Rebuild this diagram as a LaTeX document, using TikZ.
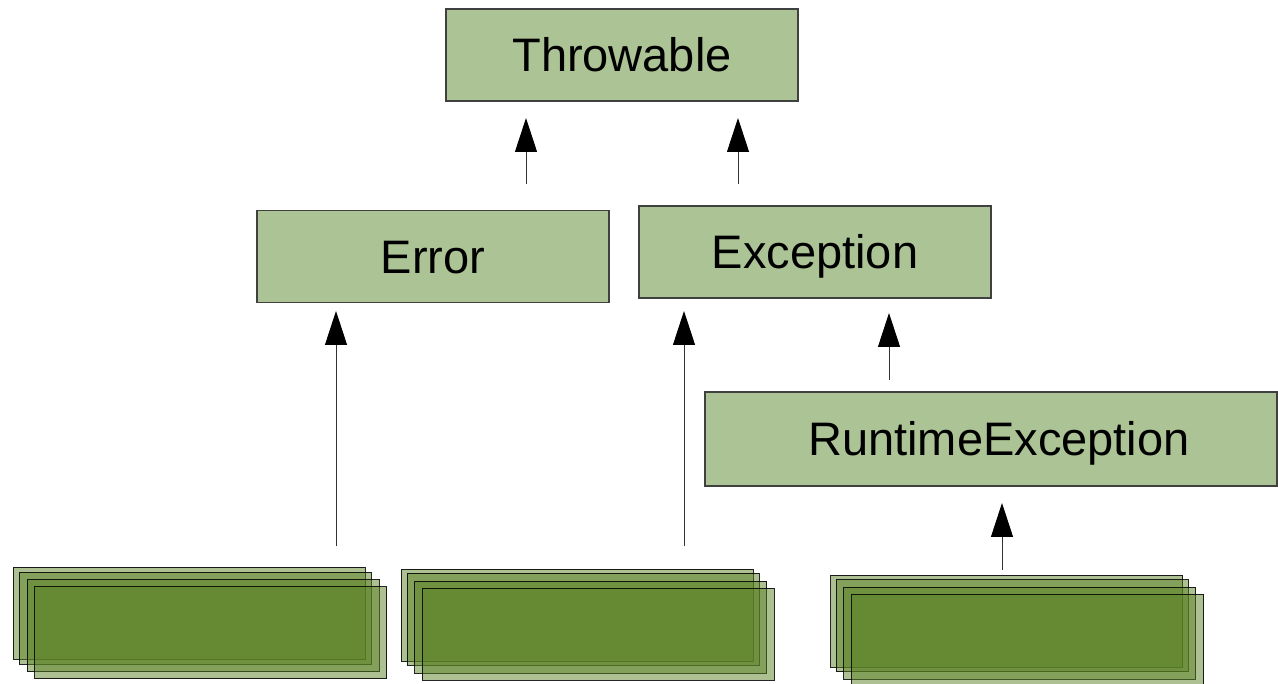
\documentclass[tikz,border=0pt]{standalone}
\usepackage{fontspec}
\setmainfont{Liberation Sans}
\usetikzlibrary{arrows.meta}
\definecolor{boxgreen}{HTML}{ACC495}
\definecolor{stackgreen}{HTML}{5C8226}
\begin{document}
\begin{tikzpicture}[x=1pt,y=-1pt,
  classbox/.style={draw=black!75,line width=1.2pt,fill=boxgreen,rectangle,inner sep=0pt,
    minimum width=352pt,minimum height=92pt,text height=33.6pt,text depth=0pt,
    font=\fontsize{47}{56}\selectfont},
  stackbox/.style={draw=black,line width=1pt,fill=stackgreen,fill opacity=0.5,draw opacity=0.85,
    rectangle,inner sep=0pt,minimum width=352pt,minimum height=92pt},
  arr/.style={draw=black!80,line width=1pt,-{Triangle[length=34pt,width=22pt,black]}}]
\useasboundingbox (0,0) rectangle (1278,684);
% main classes
\node[classbox] (thr) at (622,55) {Throwable};
\node[classbox] (err) at (433,256.5) {Error};
\node[classbox] (exc) at (815,252) {Exception};
\node[classbox,minimum width=572pt,minimum height=94pt] (rte) at (991,439) {\hspace*{16pt}RuntimeException};
% stacked boxes, group 1
\node[stackbox] (ga1) at (189,613) {};
\node[stackbox] (ga2) at (195,618) {};
\node[stackbox] (ga3) at (203,625.5) {};
\node[stackbox] (ga4) at (210.5,632.5) {};
% group 2
\node[stackbox] (gb1) at (577,615) {};
\node[stackbox] (gb2) at (583,619) {};
\node[stackbox] (gb3) at (590.5,627) {};
\node[stackbox] (gb4) at (598,634) {};
% group 3
\node[stackbox] (gc1) at (1006.5,621) {};
\node[stackbox] (gc2) at (1012,625.5) {};
\node[stackbox] (gc3) at (1019.5,633) {};
\node[stackbox] (gc4) at (1027.5,640) {};
% arrow end points
\coordinate (t1s) at (526,184); \coordinate (t1e) at (526,118);
\coordinate (t2s) at (738,184); \coordinate (t2e) at (738,118);
\coordinate (e1s) at (336,546); \coordinate (e1e) at (336,311);
\coordinate (x1s) at (684,546); \coordinate (x1e) at (684,311);
\coordinate (x2s) at (889,380); \coordinate (x2e) at (889,313);
\coordinate (r1s) at (1002,570); \coordinate (r1e) at (1002,503);
\draw[arr] (t1s) -- (t1e);
\draw[arr] (t2s) -- (t2e);
\draw[arr] (e1s) -- (e1e);
\draw[arr] (x1s) -- (x1e);
\draw[arr] (x2s) -- (x2e);
\draw[arr] (r1s) -- (r1e);
\end{tikzpicture}
\end{document}
